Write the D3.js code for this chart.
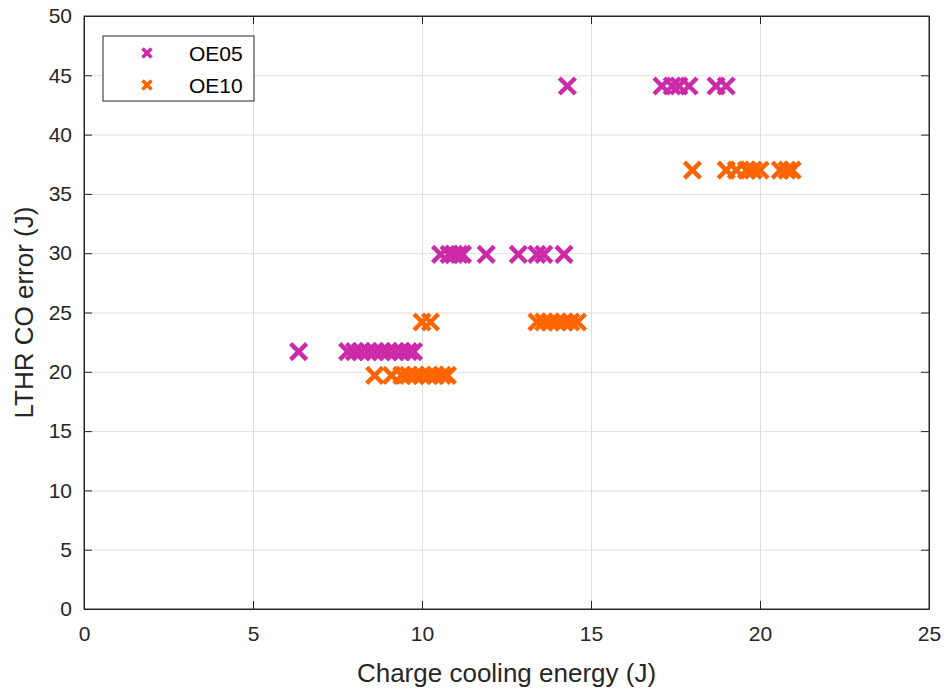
<!DOCTYPE html>
<html>
<head>
<meta charset="utf-8">
<script src="https://cdnjs.cloudflare.com/ajax/libs/d3/7.8.5/d3.min.js"></script>
<style>
  body { margin: 0; background: #fff; }
  text { font-family: "Liberation Sans", Arial, sans-serif; }
  .grid line { stroke: #dedede; }
  .grid path { display: none; }
  .axis path, .axis line { stroke: #262626; }
  .axis text { fill: #262626; font-size: 21px; }
</style>
</head>
<body>
<svg width="946" height="689" class="chart"></svg>
<script>
// series values
let oe05x = [6.35, 7.8, 8.0, 8.2, 8.4, 8.6, 8.8, 9.0, 9.2, 9.4, 9.6, 9.75,
             10.55, 10.8, 10.95, 11.1, 11.2, 11.9, 12.85, 13.4, 13.6, 14.2,
             14.3, 17.1, 17.4, 17.6, 17.9, 18.7, 19.0];
let oe05y = [21.7, 21.7, 21.7, 21.7, 21.7, 21.7, 21.7, 21.7, 21.7, 21.7, 21.7, 21.7,
             29.9, 29.9, 29.9, 29.9, 29.9, 29.9, 29.9, 29.9, 29.9, 29.9,
             44.1, 44.1, 44.1, 44.1, 44.1, 44.1, 44.1];
let oe10x = [8.6, 9.1, 9.4, 9.6, 9.8, 10.0, 10.2, 10.4, 10.6, 10.75,
             10.0, 10.25,
             13.4, 13.6, 13.8, 14.0, 14.2, 14.4, 14.6,
             18.0, 19.0, 19.3, 19.6, 19.8, 20.0, 20.6, 20.8, 20.95];
let oe10y = [19.7, 19.7, 19.7, 19.7, 19.7, 19.7, 19.7, 19.7, 19.7, 19.7,
             24.2, 24.2,
             24.2, 24.2, 24.2, 24.2, 24.2, 24.2, 24.2,
             37.0, 37.0, 37.0, 37.0, 37.0, 37.0, 37.0, 37.0, 37.0];
let seriesNames = ["OE05", "OE10"];
let seriesColors = ["#cc2aa8", "#ff6400"];
let xTicks = [0, 5, 10, 15, 20, 25];
let yTicks = [0, 5, 10, 15, 20, 25, 30, 35, 40, 45, 50];

let svg = d3.select(".chart");
let margin = {top: 16, right: 17, bottom: 80, left: 84},
    width = +svg.attr("width") - margin.left - margin.right,
    height = +svg.attr("height") - margin.top - margin.bottom;

let x = d3.scaleLinear().domain([0, 25]).range([0, width]);
let y = d3.scaleLinear().domain([0, 50]).range([height, 0]);

let g = svg.append("g")
    .attr("transform", "translate(" + margin.left + "," + margin.top + ")");

// grid
g.append("g").attr("class", "grid")
    .attr("transform", "translate(0," + height + ")")
    .call(d3.axisBottom(x).tickValues(xTicks).tickSize(-height).tickFormat(""));
g.append("g").attr("class", "grid")
    .call(d3.axisLeft(y).tickValues(yTicks).tickSize(-width).tickFormat(""));

// box
g.append("rect").attr("width", width).attr("height", height)
    .attr("fill", "none").attr("stroke", "#262626");

g.append("g").attr("class", "axis")
    .attr("transform", "translate(0," + height + ")")
    .call(d3.axisBottom(x).tickValues(xTicks).tickSizeInner(-8).tickSizeOuter(0).tickPadding(17));
g.append("g").attr("class", "axis")
    .call(d3.axisLeft(y).tickValues(yTicks).tickSizeInner(-8).tickSizeOuter(0).tickPadding(12));
g.append("g").attr("class", "axis")
    .attr("transform", "translate(" + width + ",0)")
    .call(d3.axisRight(y).tickValues(yTicks).tickSizeInner(-8).tickSizeOuter(0).tickFormat(""));
g.append("g").attr("class", "axis")
    .call(d3.axisTop(x).tickValues(xTicks).tickSizeInner(-8).tickSizeOuter(0).tickFormat(""));

svg.append("text")
    .attr("x", margin.left + width / 2).attr("y", 682)
    .attr("text-anchor", "middle").attr("font-size", 26).attr("fill", "#262626")
    .text("Charge cooling energy (J)");
svg.append("text")
    .attr("transform", "translate(33," + (margin.top + height / 2) + ") rotate(-90)")
    .attr("text-anchor", "middle").attr("font-size", 26).attr("fill", "#262626")
    .text("LTHR CO error (J)");

function cross(sel, s) {
  return sel.attr("d", "M" + (-s) + "," + (-s) + "L" + s + "," + s + "M" + (-s) + "," + s + "L" + s + "," + (-s));
}

let series = [
  {xs: oe05x, ys: oe05y},
  {xs: oe10x, ys: oe10y}
];

series.forEach(function(s, i) {
  g.append("g").selectAll("path")
    .data(s.xs.map(function(d, j) { return [d, s.ys[j]]; }))
    .enter().append("path")
      .attr("transform", function(d) { return "translate(" + x(d[0]) + "," + y(d[1]) + ")"; })
      .call(cross, 8)
      .attr("stroke", seriesColors[i])
      .attr("stroke-width", 4.5)
      .attr("fill", "none");
});

// legend
let lg = svg.append("g").attr("transform", "translate(103,36)");
lg.append("rect").attr("width", 151).attr("height", 65)
    .attr("fill", "#fff").attr("stroke", "#262626");
seriesNames.forEach(function(name, i) {
  let row = lg.append("g").attr("transform", "translate(0," + (17 + i * 32) + ")");
  row.append("path")
    .attr("transform", "translate(44,0)")
    .call(cross, 4.5)
    .attr("stroke", seriesColors[i]).attr("stroke-width", 3.5);
  row.append("text").attr("x", 86).attr("y", 8)
    .attr("font-size", 21).attr("fill", "#000").text(name);
});
</script>
</body>
</html>
